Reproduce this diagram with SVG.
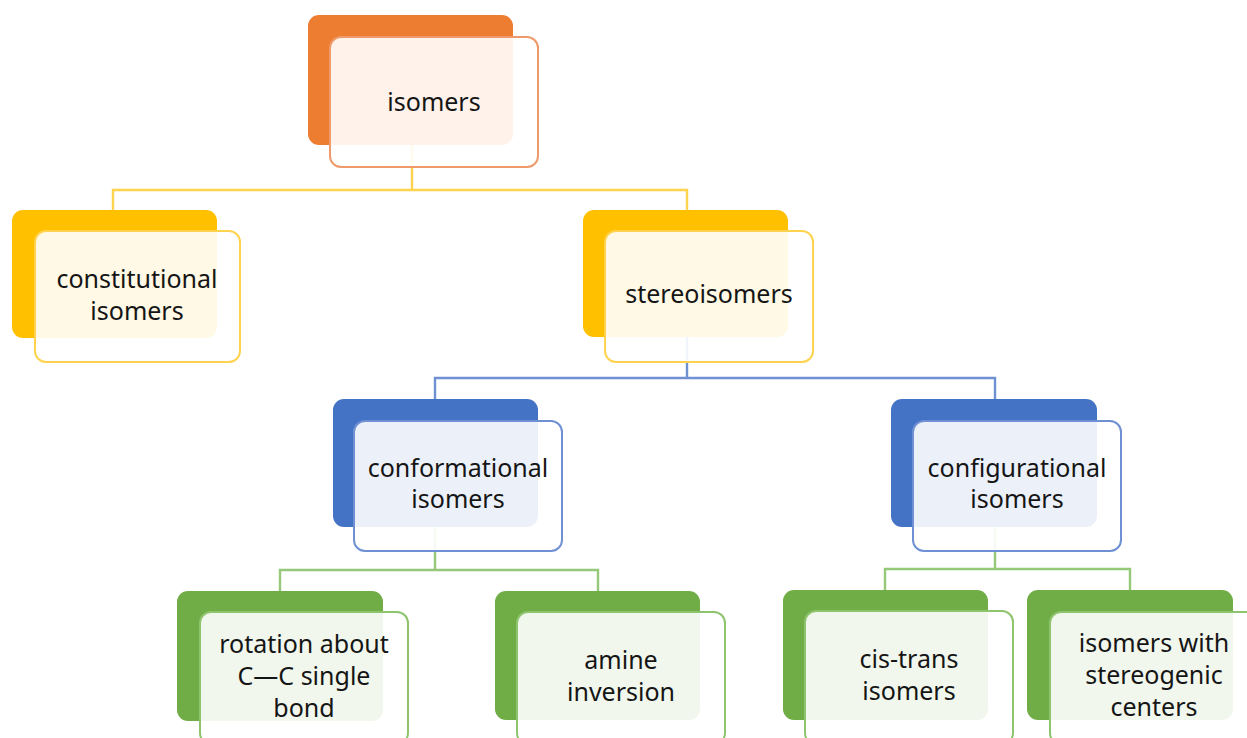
<svg xmlns="http://www.w3.org/2000/svg" width="1247" height="738" viewBox="0 0 1247 738">
<style>
.back{stroke:none}
.front{fill:#ffffff;fill-opacity:0.9;stroke-width:2}
.o .back{fill:#ED7D31}.o .front{stroke:#EE9A6A}
.y .back{fill:#FFC000}.y .front{stroke:#FFD34E}
.b .back{fill:#4472C4}.b .front{stroke:#6F90D2}
.g .back{fill:#70AD47}.g .front{stroke:#8FC46E}
text{font-family:"Noto Sans","Open Sans","Liberation Sans",sans-serif;font-size:25px;fill:#151515;text-anchor:middle}
.cy{stroke:#FFD34E}.cb{stroke:#6F90D2}.cg{stroke:#95C878}
#connectors path{fill:none;stroke-width:2.4}
</style>
<rect width="1247" height="738" fill="#ffffff"/>
<g id="connectors">
<path class="cy" d="M412 145V190M113 210V190H687V210"/>
<path class="cb" d="M687 337V378M435 399V378H995V399"/>
<path class="cg" d="M435 527V570M280 591V570H598V591"/>
<path class="cg" d="M995 527V569M885 590V569H1130V590"/>
</g>
<g id="n-isomers" class="o">
<rect class="back" x="308" y="15" width="205" height="130" rx="11"/>
<rect class="front" x="330" y="37" width="208" height="130" rx="11"/>
<text x="434" y="111">isomers</text>
</g>
<g id="n-constitutional" class="y">
<rect class="back" x="12" y="210" width="205" height="128" rx="11"/>
<rect class="front" x="35" y="231" width="205" height="131" rx="11"/>
<text x="137" y="288">constitutional</text>
<text x="137" y="320">isomers</text>
</g>
<g id="n-stereoisomers" class="y">
<rect class="back" x="583" y="210" width="205" height="127" rx="11"/>
<rect class="front" x="605" y="231" width="208" height="131" rx="11"/>
<text x="709" y="303">stereoisomers</text>
</g>
<g id="n-conformational" class="b">
<rect class="back" x="333" y="399" width="205" height="128" rx="11"/>
<rect class="front" x="354" y="421" width="208" height="130" rx="11"/>
<text x="458" y="477">conformational</text>
<text x="458" y="508">isomers</text>
</g>
<g id="n-configurational" class="b">
<rect class="back" x="891" y="399" width="206" height="128" rx="11"/>
<rect class="front" x="913" y="421" width="208" height="130" rx="11"/>
<text x="1017" y="477">configurational</text>
<text x="1017" y="508">isomers</text>
</g>
<g id="n-rotation" class="g">
<rect class="back" x="177" y="591" width="206" height="130" rx="11"/>
<rect class="front" x="200" y="612" width="208" height="132" rx="11"/>
<text x="304" y="653">rotation about</text>
<text x="304" y="685">C—C single</text>
<text x="304" y="717">bond</text>
</g>
<g id="n-amine" class="g">
<rect class="back" x="495" y="591" width="205" height="129" rx="11"/>
<rect class="front" x="517" y="612" width="208" height="132" rx="11"/>
<text x="621" y="669">amine</text>
<text x="621" y="701">inversion</text>
</g>
<g id="n-cistrans" class="g">
<rect class="back" x="783" y="590" width="205" height="130" rx="11"/>
<rect class="front" x="805" y="611" width="208" height="133" rx="11"/>
<text x="909" y="668">cis-trans</text>
<text x="909" y="700">isomers</text>
</g>
<g id="n-stereogenic" class="g">
<rect class="back" x="1027" y="590" width="206" height="130" rx="11"/>
<rect class="front" x="1050" y="612" width="208" height="132" rx="11"/>
<text x="1154" y="652">isomers with</text>
<text x="1154" y="684">stereogenic</text>
<text x="1154" y="716">centers</text>
</g>
</svg>
